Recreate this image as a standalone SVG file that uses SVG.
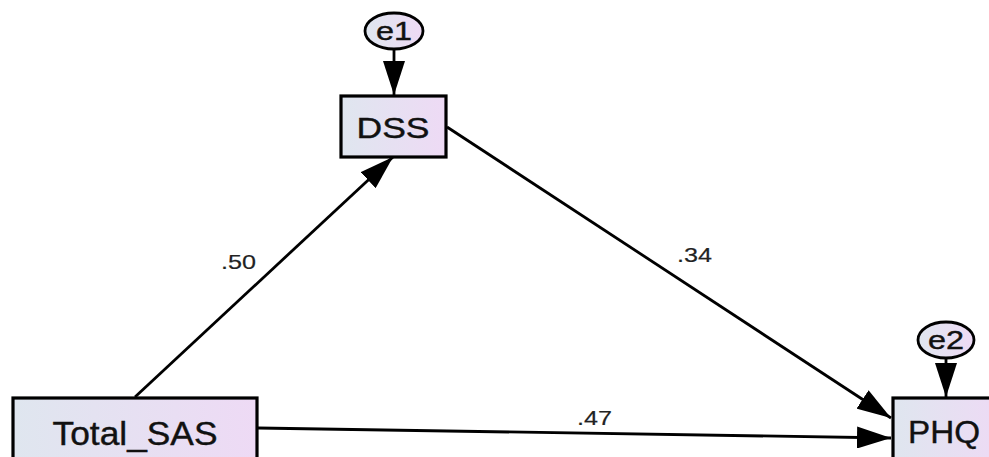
<svg xmlns="http://www.w3.org/2000/svg" width="989" height="457" viewBox="0 0 989 457">
<defs>
<linearGradient id="g" x1="0" y1="0" x2="1" y2="0">
<stop offset="0" stop-color="#dfe6ef"/>
<stop offset="1" stop-color="#eedaf5"/>
</linearGradient>
<marker id="ah" viewBox="0 0 34 22" refX="34" refY="11" markerWidth="34" markerHeight="22" markerUnits="userSpaceOnUse" orient="auto">
<path d="M0,0 L34,11 L0,22 Z" fill="#000"/>
</marker>
</defs>
<style>
.box{fill:url(#g);stroke:#000;stroke-width:3.2}
.err{fill:url(#g);stroke:#000;stroke-width:2.8}
.lbl{font-family:"Liberation Sans",Arial,sans-serif;fill:#111;text-anchor:middle;stroke:#111;stroke-width:0.4}
.edge{stroke:#000;stroke-width:2.8;fill:none;marker-end:url(#ah)}
.coef{font-family:"Liberation Sans",Arial,sans-serif;fill:#222;font-size:21px;stroke:#222;stroke-width:0.2}
</style>
<rect width="989" height="457" fill="#fff"/>
<g id="connectors">
<line class="edge" x1="394" y1="49" x2="394" y2="95"/>
<line class="edge" x1="946" y1="358" x2="946" y2="397"/>
<line class="edge" x1="135" y1="397" x2="393" y2="157"/>
<line class="edge" x1="447" y1="127" x2="891" y2="418"/>
<line class="edge" x1="258" y1="428" x2="891" y2="438"/>
<text class="coef" x="221" y="269" textLength="35" lengthAdjust="spacingAndGlyphs">.50</text>
<text class="coef" x="677" y="262" textLength="35" lengthAdjust="spacingAndGlyphs">.34</text>
<text class="coef" x="577" y="425" textLength="35" lengthAdjust="spacingAndGlyphs">.47</text>
</g>
<g id="e1">
<ellipse class="err" cx="394" cy="31" rx="29" ry="18"/>
<text class="lbl" x="394" y="40" font-size="26" textLength="36" lengthAdjust="spacingAndGlyphs">e1</text>
</g>
<g id="DSS">
<rect class="box" x="341" y="96" width="105" height="61"/>
<text class="lbl" x="393" y="138" font-size="29" textLength="73" lengthAdjust="spacingAndGlyphs">DSS</text>
</g>
<g id="e2">
<ellipse class="err" cx="946" cy="340" rx="28" ry="18"/>
<text class="lbl" x="946" y="349" font-size="26" textLength="36" lengthAdjust="spacingAndGlyphs">e2</text>
</g>
<g id="Total_SAS">
<rect class="box" x="13" y="398" width="244" height="66"/>
<text class="lbl" x="135" y="445" font-size="33" textLength="165" lengthAdjust="spacingAndGlyphs">Total_SAS</text>
</g>
<g id="PHQ">
<rect class="box" x="893" y="398" width="110" height="66"/>
<text class="lbl" x="944" y="443" font-size="31" textLength="72" lengthAdjust="spacingAndGlyphs">PHQ</text>
</g>
</svg>
